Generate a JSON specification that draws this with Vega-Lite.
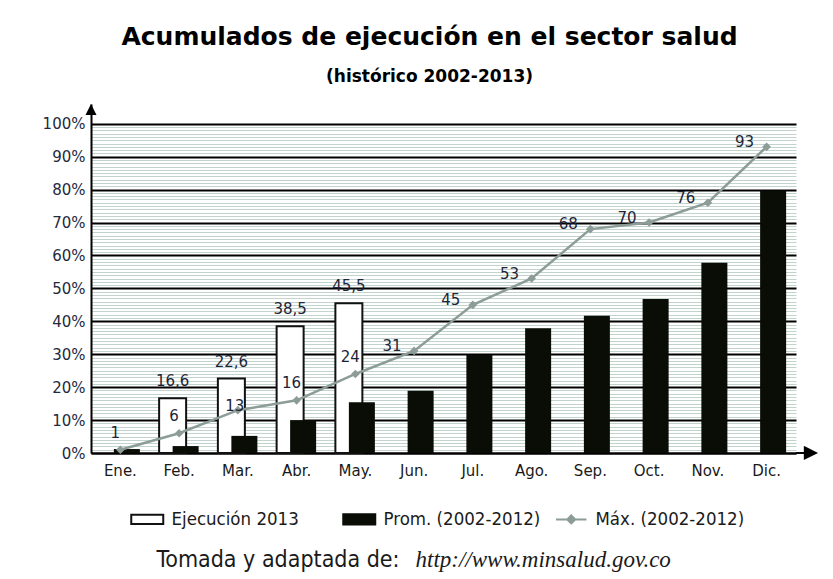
{
  "$schema": "https://vega.github.io/schema/vega-lite/v6.json",
  "autosize": "none",
  "width": 705,
  "height": 349,
  "padding": {"left": 91, "top": 104, "right": 37, "bottom": 126},
  "background": "white",
  "config": {
    "view": {"stroke": null},
    "font": "DejaVu Sans",
    "locale": {"number": {"decimal": ",", "thousands": ".", "grouping": [3], "currency": ["$", ""]}},
    "legend": {"orient": "none", "legendX": 47, "legendY": 406, "direction": "horizontal", "columns": 3, "gridAlign": "all", "columnPadding": 10, "title": null, "symbolSize": 256, "labelOffset": 15, "labelFont": "DejaVu Sans Condensed", "labelFontSize": 18.5, "labelColor": "#1a1a1a", "symbolStrokeWidth": 2}
  },
  "title": {
    "text": "Acumulados de ejecución en el sector salud",
    "subtitle": "(histórico 2002-2013)",
    "font": "DejaVu Sans",
    "fontSize": 25,
    "fontWeight": "bold",
    "color": "#000000",
    "subtitleFont": "DejaVu Sans",
    "subtitleFontSize": 17,
    "subtitleFontWeight": "bold",
    "subtitleColor": "#000000",
    "anchor": "middle",
    "dx": -14,
    "offset": 19,
    "subtitlePadding": 19
  },
  "datasets": {
    "d": [
      {"mes": "Feb.", "serie": "Ejecución 2013", "valor": 16.6},
      {"mes": "Mar.", "serie": "Ejecución 2013", "valor": 22.6},
      {"mes": "Abr.", "serie": "Ejecución 2013", "valor": 38.5},
      {"mes": "May.", "serie": "Ejecución 2013", "valor": 45.5},
      {"mes": "Ene.", "serie": "Prom. (2002-2012)", "valor": 1.2},
      {"mes": "Feb.", "serie": "Prom. (2002-2012)", "valor": 2.1},
      {"mes": "Mar.", "serie": "Prom. (2002-2012)", "valor": 5.2},
      {"mes": "Abr.", "serie": "Prom. (2002-2012)", "valor": 10},
      {"mes": "May.", "serie": "Prom. (2002-2012)", "valor": 15.4},
      {"mes": "Jun.", "serie": "Prom. (2002-2012)", "valor": 18.9},
      {"mes": "Jul.", "serie": "Prom. (2002-2012)", "valor": 29.8},
      {"mes": "Ago.", "serie": "Prom. (2002-2012)", "valor": 37.9},
      {"mes": "Sep.", "serie": "Prom. (2002-2012)", "valor": 41.7},
      {"mes": "Oct.", "serie": "Prom. (2002-2012)", "valor": 46.8},
      {"mes": "Nov.", "serie": "Prom. (2002-2012)", "valor": 57.8},
      {"mes": "Dic.", "serie": "Prom. (2002-2012)", "valor": 79.7},
      {"mes": "Ene.", "serie": "Máx. (2002-2012)", "valor": 1},
      {"mes": "Feb.", "serie": "Máx. (2002-2012)", "valor": 6},
      {"mes": "Mar.", "serie": "Máx. (2002-2012)", "valor": 13},
      {"mes": "Abr.", "serie": "Máx. (2002-2012)", "valor": 16},
      {"mes": "May.", "serie": "Máx. (2002-2012)", "valor": 24},
      {"mes": "Jun.", "serie": "Máx. (2002-2012)", "valor": 31},
      {"mes": "Jul.", "serie": "Máx. (2002-2012)", "valor": 45},
      {"mes": "Ago.", "serie": "Máx. (2002-2012)", "valor": 53},
      {"mes": "Sep.", "serie": "Máx. (2002-2012)", "valor": 68},
      {"mes": "Oct.", "serie": "Máx. (2002-2012)", "valor": 70},
      {"mes": "Nov.", "serie": "Máx. (2002-2012)", "valor": 76},
      {"mes": "Dic.", "serie": "Máx. (2002-2012)", "valor": 93}
    ]
  },
  "data": {"name": "d"},
  "encoding": {
    "x": {
      "field": "mes", "type": "nominal",
      "scale": {"domain": ["Ene.", "Feb.", "Mar.", "Abr.", "May.", "Jun.", "Jul.", "Ago.", "Sep.", "Oct.", "Nov.", "Dic."], "paddingInner": 0, "paddingOuter": 0},
      "axis": {
        "labelAngle": 0, "labelFont": "DejaVu Sans", "labelFontSize": 15, "labelColor": "#1a1a1a", "labelPadding": 10,
        "ticks": false, "grid": false, "domain": true, "domainColor": "#000000", "domainWidth": 2,
        "title": "Tomada y adaptada de:", "titleFont": "DejaVu Sans Condensed", "titleFontSize": 23, "titleFontWeight": "normal", "titleColor": "#1a1a1a",
        "titleAnchor": "start", "titleAlign": "left", "titleBaseline": "alphabetic", "titleX": 65, "titleY": 113
      }
    },
    "y": {
      "field": "valor", "type": "quantitative",
      "scale": {"domain": [0, 106], "nice": false},
      "axis": {
        "values": [0,1,2,3,4,5,6,7,8,9,10,11,12,13,14,15,16,17,18,19,20,21,22,23,24,25,26,27,28,29,30,31,32,33,34,35,36,37,38,39,40,41,42,43,44,45,46,47,48,49,50,51,52,53,54,55,56,57,58,59,60,61,62,63,64,65,66,67,68,69,70,71,72,73,74,75,76,77,78,79,80,81,82,83,84,85,86,87,88,89,90,91,92,93,94,95,96,97,98,99,100],
        "labelExpr": "datum.value % 10 === 0 ? datum.value + '%' : ''",
        "labelOverlap": false, "labelFont": "DejaVu Sans", "labelFontSize": 15, "labelColor": "#232a3d", "labelPadding": 6,
        "ticks": false, "domain": true, "domainColor": "#000000", "domainWidth": 2,
        "grid": true,
        "gridColor": {"condition": {"test": "datum.value % 10 === 0", "value": "#000000"}, "value": "#c2d3cd"},
        "gridWidth": {"condition": {"test": "datum.value % 10 === 0", "value": 2}, "value": 1},
        "title": "http://www.minsalud.gov.co", "titleAngle": 0, "titleFont": "Liberation Serif", "titleFontStyle": "italic", "titleFontWeight": "normal",
        "titleFontSize": 23, "titleColor": "#1a1a1a", "titleAlign": "left", "titleBaseline": "alphabetic", "titleX": 324, "titleY": 462
      }
    }
  },
  "layer": [
    {
      "transform": [{"filter": "datum.serie === 'Ejecución 2013'"}],
      "mark": {"type": "bar", "size": 27, "xOffset": -6.5, "strokeWidth": 2},
      "encoding": {
        "fill": {"field": "serie", "type": "nominal",
          "scale": {"domain": ["Ejecución 2013", "Prom. (2002-2012)", "Máx. (2002-2012)"], "range": ["#ffffff", "#0a0c06", "#8c9c96"]}},
        "stroke": {"field": "serie", "type": "nominal",
          "scale": {"domain": ["Ejecución 2013", "Prom. (2002-2012)", "Máx. (2002-2012)"], "range": ["#111111", "#0a0c06", "#8c9c96"]}}
      }
    },
    {
      "transform": [{"filter": "datum.serie === 'Prom. (2002-2012)'"}],
      "mark": {"type": "bar", "size": 26, "xOffset": 6.5, "strokeWidth": 0},
      "encoding": {
        "fill": {"field": "serie", "type": "nominal"}
      }
    },
    {
      "transform": [{"filter": "datum.serie === 'Máx. (2002-2012)'"}],
      "mark": {"type": "line", "strokeWidth": 2.5},
      "encoding": {
        "stroke": {"field": "serie", "type": "nominal"}
      }
    },
    {
      "transform": [{"filter": "datum.serie === 'Máx. (2002-2012)'"}],
      "mark": {"type": "point", "shape": "diamond", "filled": true, "size": 75, "opacity": 1},
      "encoding": {
        "fill": {"field": "serie", "type": "nominal"}
      }
    },
    {
      "mark": {"type": "point", "opacity": 0, "filled": false},
      "encoding": {
        "shape": {"field": "serie", "type": "nominal",
          "scale": {"domain": ["Ejecución 2013", "Prom. (2002-2012)", "Máx. (2002-2012)"], "range": ["M-2,-0.58H2V0.58H-2Z", "M-2,-0.65H2V0.65H-2Z", "M-1.9,0H1.9M0,-0.5L0.5,0L0,0.5L-0.5,0Z"]},
          "legend": {"encode": {"symbols": {"update": {"opacity": {"value": 1}}}}}
        },
        "fill": {"field": "serie", "type": "nominal"},
        "stroke": {"field": "serie", "type": "nominal"}
      }
    },
    {
      "transform": [{"filter": "datum.serie === 'Ejecución 2013'"}],
      "mark": {"type": "text", "xOffset": -6.5, "dy": -17, "fontSize": 15, "font": "DejaVu Sans", "color": "#1d2438", "baseline": "middle", "align": "center"},
      "encoding": {
        "text": {"field": "valor", "type": "quantitative", "format": ".1f"}
      }
    },
    {
      "transform": [{"filter": "datum.serie === 'Máx. (2002-2012)' && indexof(['Ene.','Feb.','Abr.','May.'], datum.mes) >= 0"}],
      "mark": {"type": "text", "dx": -5, "dy": -17, "fontSize": 15, "font": "DejaVu Sans", "color": "#1d2438", "baseline": "middle", "align": "center"},
      "encoding": {
        "text": {"field": "valor", "type": "quantitative", "format": "d"}
      }
    },
    {
      "transform": [{"filter": "datum.serie === 'Máx. (2002-2012)' && datum.mes === 'Mar.'"}],
      "mark": {"type": "text", "dx": -3, "dy": -4, "fontSize": 15, "font": "DejaVu Sans", "color": "#1d2438", "baseline": "middle", "align": "center"},
      "encoding": {
        "text": {"field": "valor", "type": "quantitative", "format": "d"}
      }
    },
    {
      "transform": [{"filter": "datum.serie === 'Máx. (2002-2012)' && indexof(['Ene.','Feb.','Mar.','Abr.','May.'], datum.mes) < 0"}],
      "mark": {"type": "text", "dx": -22, "dy": -5, "fontSize": 15, "font": "DejaVu Sans", "color": "#1d2438", "baseline": "middle", "align": "center"},
      "encoding": {
        "text": {"field": "valor", "type": "quantitative", "format": "d"}
      }
    },
    {
      "transform": [{"filter": "datum.serie === 'Máx. (2002-2012)' && datum.mes === 'Ene.'"}],
      "mark": {"type": "point", "shape": "M0,0L1,2L-1,2Z", "size": 121, "filled": true, "color": "#000000", "opacity": 1, "xOffset": -29.4, "clip": false},
      "encoding": {
        "y": {"datum": 106, "type": "quantitative"}
      }
    },
    {
      "transform": [{"filter": "datum.serie === 'Máx. (2002-2012)' && datum.mes === 'Dic.'"}],
      "mark": {"type": "point", "shape": "M0,0H1.7M1.6,-1L3.6,0L1.6,1Z", "size": 121, "filled": true, "fill": "#000000", "stroke": "#000000", "strokeWidth": 2, "opacity": 1, "xOffset": 29.4, "clip": false},
      "encoding": {
        "y": {"datum": 0, "type": "quantitative"}
      }
    }
  ]
}
